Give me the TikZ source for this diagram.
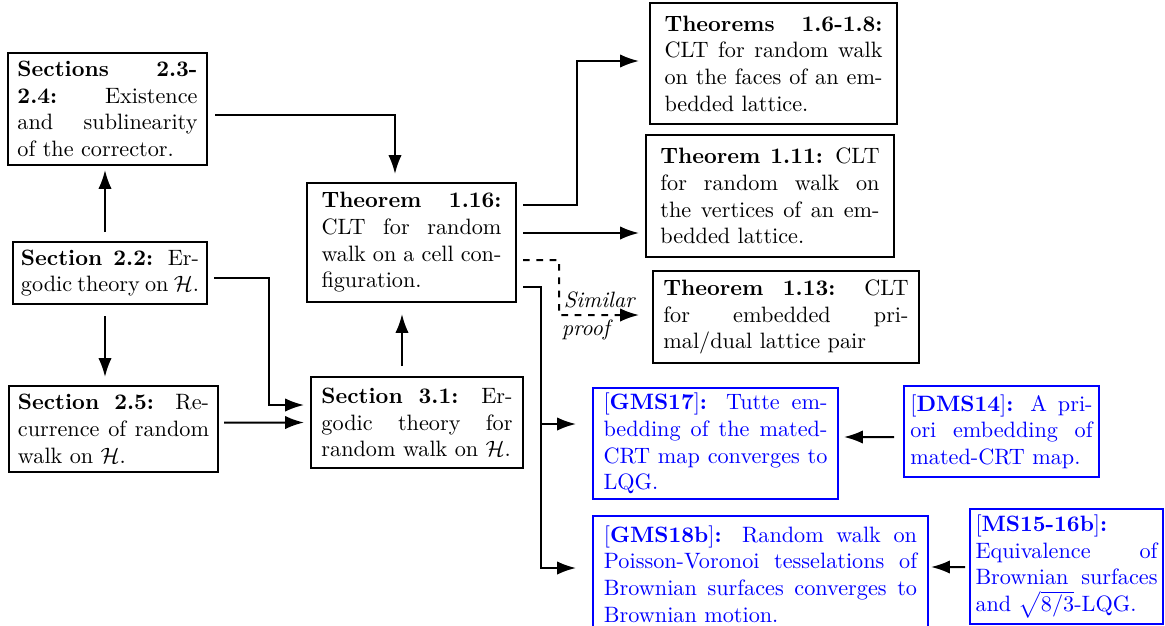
\documentclass[tikz,border=0pt]{standalone}
\usetikzlibrary{arrows.meta,calc}
\begin{document}
\begin{tikzpicture}[x=0.45pt,y=-0.45pt,
  box/.style={draw, line width=0.9pt, inner sep=0pt, align=justify,
    execute at begin node={\tolerance=10000\hbadness=10000\relax}},
  bbox/.style={box, draw=blue, text=blue},
  arr/.style={line width=0.9pt, -{Latex[length=8.5pt,width=6pt]}},
  lbl/.style={inner sep=1.5pt, font=\itshape},
]
\clip (0,0) rectangle (1165,625);

% left column
\node[box, text width=81pt, minimum width=89.55pt, minimum height=50.4pt] (A) at (107.5,109)
  {\textbf{Sections 2.3-\linebreak 2.4:} Existence\linebreak and sublinearity\linebreak of the corrector.};
\node[box, text width=80.1pt, minimum width=87.3pt, minimum height=27.9pt] (B) at (110,273)
  {\textbf{Section 2.2:} Er-\linebreak godic theory on $\mathcal{H}$.};
\node[box, text width=86pt, minimum width=94.05pt, minimum height=38.7pt] (C) at (113.5,429)
  {\textbf{Section 2.5:} Re-\linebreak currence of random\linebreak walk on $\mathcal{H}$.};

% middle column
\node[box, text width=81pt, minimum width=94.05pt, minimum height=53.55pt] (D) at (411.5,242.5)
  {\textbf{Theorem 1.16:}\linebreak CLT for random\linebreak walk on a cell con-\linebreak figuration.};
\node[box, text width=86pt, minimum width=95.4pt, minimum height=40.95pt] (E) at (417,422.5)
  {\textbf{Section 3.1:} Er-\linebreak godic theory for\linebreak random walk on $\mathcal{H}$.};

% right column
\node[box, text width=98.1pt, minimum width=111.15pt, minimum height=54.45pt] (F) at (773.5,63.5)
  {\textbf{Theorems 1.6-1.8:}\linebreak CLT for random walk\linebreak on the faces of an em-\linebreak bedded lattice.};
\node[box, text width=98.6pt, minimum width=111.6pt, minimum height=54.9pt] (G) at (770,196)
  {\textbf{Theorem 1.11:} CLT\linebreak for random walk on\linebreak the vertices of an em-\linebreak bedded lattice.};
\node[box, text width=110.3pt, minimum width=119.7pt, minimum height=41.4pt] (H) at (786,317)
  {\textbf{Theorem 1.13:} CLT\linebreak for embedded pri-\linebreak mal/dual lattice pair};

% blue boxes
\node[bbox, text width=100.8pt, minimum width=110.25pt, minimum height=49.95pt] (I) at (715.5,443.5)
  {[\textbf{GMS17}]\textbf{:} Tutte em-\linebreak bedding of the mated-\linebreak CRT map converges to\linebreak LQG.};
\node[bbox, text width=82pt, minimum width=87.75pt, minimum height=40.95pt] (J) at (1001.5,431.5)
  {[\textbf{DMS14}]\textbf{:} A pri-\linebreak ori embedding of\linebreak mated-CRT map.};
\node[bbox, text width=140.9pt, minimum width=150.75pt, minimum height=52.2pt] (K) at (760.5,574)
  {[\textbf{GMS18b}]\textbf{:} Random walk on\linebreak Poisson-Voronoi tesselations of\linebreak Brownian surfaces converges to\linebreak Brownian motion.};
\node[bbox, text width=81.9pt, minimum width=86.85pt, minimum height=51.75pt] (L) at (1066.5,566.5)
  {[\textbf{MS15-16b}]\textbf{:}\linebreak Equivalence of\linebreak Brownian surfaces\linebreak and $\sqrt{8/3}$-LQG.};

% connectors
\draw[arr] ($(A.east)+(7,6)$) -| ($(D.north)+(-16.5,-8)$);
\draw[arr] ($(B.north)+(-5,-9)$) -- ($(A.south)+(-2.5,4)$);
\draw[arr] ($(B.south)+(-5,11)$) -- ($(C.north)+(-8.5,-8)$);
\draw[arr] ($(B.east)+(6,5)$) -- ++(55,0) |- ($(E.west)+(-6,-17.5)$);
\draw[arr] ($(C.east)+(5,-6.5)$) -- ($(E.west)+(-6,0)$);
\draw[arr] ($(E.north)+(-15,-10)$) -- ($(D.south)+(-9.5,11)$);

\draw[arr] ($(D.east)+(6,-37.5)$) -- ++(54,0) |- ($(F.west)+(-10,-2.5)$);
\draw[arr] ($(D.east)+(6,-9.5)$) -- ($(G.west)+(-6,37)$);
\coordinate (dc) at ($(D.east)+(42,72.5)$);
\draw[arr, dashed] ($(D.east)+(6,17.5)$) -| (dc) -- ($(H.west)+(-13,-2)$);
\node[lbl, anchor=south west] (sim) at ($(dc)+(1,-3.5)$) {Similar};
\node[lbl, anchor=north west] (prf) at ($(dc)+(-1,1)$) {proof};
\coordinate (d4) at ($(D.east)+(24,44.5)$);
\coordinate (Itip) at ($(I.west)+(-16,-19.5)$);
\draw[arr] ($(D.east)+(6,44.5)$) -- (d4) |- ($(K.west)+(-16,-6)$);
\draw[arr] (d4 |- Itip) -- (Itip);

\draw[arr] ($(J.west)+(-9,5.5)$) -- ($(I.east)+(5,-6.5)$);
\draw[arr] ($(L.west)+(-4,0.5)$) -- ($(K.east)+(2,-7)$);
\end{tikzpicture}
\end{document}
